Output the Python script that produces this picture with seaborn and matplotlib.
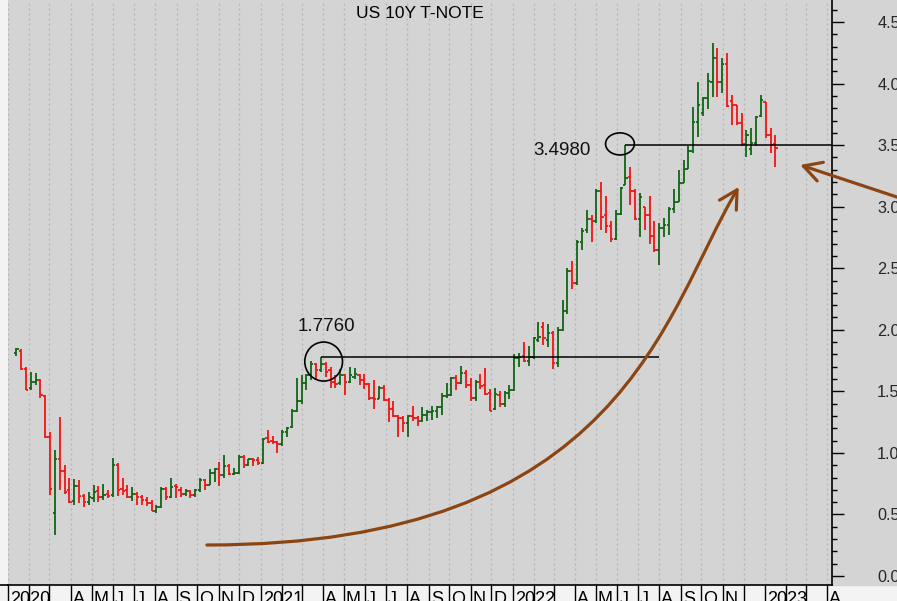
import numpy as np
import pandas as pd
import matplotlib
matplotlib.use('Agg')
import matplotlib.pyplot as plt
import matplotlib.dates as mdates
from matplotlib.patches import Ellipse, FancyArrowPatch, Rectangle, ArrowStyle
from matplotlib.path import Path
from matplotlib.lines import Line2D
import seaborn as sns

# weekly OHLC bars of the US 10Y yield, first bar is the week of 2020-01-13
first_week = '2020-01-13'
opens = [1.81, 1.83, 1.68, 1.53, 1.58, 1.59, 1.46, 1.13, 0.51, 0.95,
         0.85, 0.70, 0.61, 0.73, 0.65, 0.60, 0.63, 0.69, 0.64, 0.67,
         0.66, 0.90, 0.71, 0.70, 0.64, 0.67, 0.64, 0.62, 0.59, 0.53,
         0.56, 0.71, 0.64, 0.73, 0.70, 0.67, 0.69, 0.66, 0.70, 0.78,
         0.74, 0.84, 0.87, 0.82, 0.89, 0.83, 0.84, 0.97, 0.90, 0.95,
         0.94, 0.92, 1.12, 1.10, 1.09, 1.07, 1.17, 1.21, 1.34, 1.42,
         1.57, 1.63, 1.72, 1.67, 1.72, 1.67, 1.58, 1.57, 1.63, 1.58,
         1.62, 1.63, 1.59, 1.56, 1.45, 1.44, 1.53, 1.43, 1.36, 1.30,
         1.28, 1.24, 1.30, 1.28, 1.26, 1.31, 1.33, 1.34, 1.37, 1.46,
         1.47, 1.61, 1.57, 1.65, 1.55, 1.45, 1.58, 1.55, 1.49, 1.36,
         1.47, 1.40, 1.49, 1.51, 1.77, 1.79, 1.75, 1.78, 1.92, 2.02,
         1.92, 1.97, 1.73, 2.00, 2.15, 2.48, 2.38, 2.71, 2.81, 2.90,
         2.88, 3.13, 2.93, 2.84, 2.74, 2.94, 3.18, 3.24, 3.13, 2.90,
         3.00, 2.93, 2.76, 2.65, 2.83, 2.85, 2.98, 3.04, 3.19, 3.31,
         3.45, 3.69, 3.76, 3.88, 4.01, 4.21, 4.01, 4.16, 3.86, 3.83,
         3.68, 3.51, 3.47, 3.52, 3.74, 3.85, 3.58, 3.51]
highs = [1.85, 1.84, 1.70, 1.66, 1.65, 1.60, 1.47, 1.17, 1.02, 1.29,
         0.90, 0.80, 0.79, 0.78, 0.67, 0.68, 0.74, 0.73, 0.75, 0.70,
         0.96, 0.92, 0.80, 0.74, 0.72, 0.68, 0.66, 0.64, 0.62, 0.58,
         0.72, 0.72, 0.80, 0.75, 0.72, 0.71, 0.70, 0.71, 0.80, 0.79,
         0.87, 0.88, 0.93, 0.98, 0.91, 0.88, 0.98, 0.98, 0.95, 0.96,
         0.97, 1.12, 1.19, 1.14, 1.10, 1.19, 1.21, 1.36, 1.61, 1.63,
         1.64, 1.75, 1.73, 1.776, 1.74, 1.70, 1.63, 1.68, 1.64, 1.70,
         1.69, 1.64, 1.64, 1.57, 1.59, 1.54, 1.55, 1.45, 1.42, 1.31,
         1.30, 1.31, 1.38, 1.30, 1.37, 1.35, 1.38, 1.38, 1.49, 1.57,
         1.62, 1.63, 1.71, 1.67, 1.61, 1.59, 1.64, 1.69, 1.52, 1.53,
         1.50, 1.50, 1.55, 1.80, 1.81, 1.90, 1.87, 1.94, 2.06, 2.06,
         2.05, 1.99, 2.02, 2.24, 2.50, 2.56, 2.73, 2.83, 2.97, 2.93,
         3.14, 3.20, 3.09, 2.88, 2.97, 3.16, 3.498, 3.32, 3.14, 3.11,
         3.00, 3.09, 2.88, 2.87, 2.91, 3.00, 3.14, 3.30, 3.38, 3.49,
         3.81, 4.01, 3.89, 4.09, 4.33, 4.29, 4.21, 4.25, 3.91, 3.83,
         3.76, 3.62, 3.64, 3.74, 3.91, 3.85, 3.64, 3.58]
lows = [1.79, 1.67, 1.51, 1.51, 1.55, 1.45, 1.12, 0.66, 0.33, 0.70,
        0.67, 0.59, 0.58, 0.59, 0.56, 0.58, 0.60, 0.60, 0.62, 0.63,
        0.64, 0.65, 0.66, 0.63, 0.61, 0.58, 0.58, 0.57, 0.53, 0.51,
        0.55, 0.62, 0.63, 0.63, 0.64, 0.65, 0.63, 0.64, 0.68, 0.70,
        0.74, 0.76, 0.73, 0.80, 0.82, 0.82, 0.83, 0.88, 0.89, 0.89,
        0.90, 0.91, 1.08, 1.07, 1.00, 1.06, 1.13, 1.20, 1.33, 1.40,
        1.51, 1.59, 1.60, 1.66, 1.62, 1.53, 1.53, 1.55, 1.47, 1.57,
        1.60, 1.55, 1.52, 1.43, 1.36, 1.44, 1.42, 1.25, 1.29, 1.13,
        1.17, 1.13, 1.26, 1.22, 1.25, 1.26, 1.27, 1.28, 1.31, 1.45,
        1.46, 1.51, 1.56, 1.53, 1.42, 1.42, 1.52, 1.47, 1.34, 1.35,
        1.37, 1.37, 1.44, 1.50, 1.70, 1.74, 1.71, 1.76, 1.90, 1.88,
        1.86, 1.68, 1.70, 1.99, 2.13, 2.33, 2.36, 2.65, 2.79, 2.71,
        2.87, 2.81, 2.79, 2.71, 2.73, 2.93, 3.18, 3.01, 2.89, 2.75,
        2.81, 2.70, 2.63, 2.53, 2.75, 2.77, 2.95, 3.04, 3.19, 3.31,
        3.44, 3.57, 3.74, 3.79, 3.89, 3.89, 3.92, 3.81, 3.66, 3.66,
        3.49, 3.40, 3.42, 3.49, 3.73, 3.56, 3.44, 3.32]
closes = [1.84, 1.68, 1.51, 1.58, 1.59, 1.47, 1.13, 0.71, 0.95, 0.85,
          0.68, 0.60, 0.73, 0.65, 0.60, 0.64, 0.68, 0.64, 0.66, 0.65,
          0.90, 0.70, 0.69, 0.64, 0.67, 0.64, 0.62, 0.59, 0.53, 0.56,
          0.71, 0.64, 0.72, 0.72, 0.67, 0.69, 0.66, 0.70, 0.78, 0.74,
          0.84, 0.87, 0.82, 0.89, 0.83, 0.84, 0.97, 0.90, 0.95, 0.94,
          0.92, 1.11, 1.09, 1.09, 1.07, 1.17, 1.20, 1.34, 1.42, 1.57,
          1.63, 1.72, 1.67, 1.72, 1.66, 1.58, 1.56, 1.63, 1.58, 1.63,
          1.64, 1.59, 1.56, 1.45, 1.44, 1.53, 1.43, 1.36, 1.30, 1.28,
          1.24, 1.30, 1.28, 1.26, 1.31, 1.33, 1.34, 1.37, 1.46, 1.47,
          1.61, 1.57, 1.65, 1.55, 1.45, 1.58, 1.54, 1.48, 1.34, 1.48,
          1.40, 1.49, 1.51, 1.77, 1.78, 1.75, 1.78, 1.93, 1.94, 1.93,
          1.97, 1.73, 2.00, 2.15, 2.48, 2.38, 2.71, 2.80, 2.90, 2.88,
          3.13, 2.92, 2.84, 2.74, 2.94, 3.15, 3.23, 3.13, 2.90, 3.08,
          2.93, 2.76, 2.65, 2.83, 2.85, 2.98, 3.04, 3.19, 3.31, 3.45,
          3.69, 3.83, 3.88, 4.02, 4.21, 4.01, 4.16, 3.82, 3.83, 3.68,
          3.51, 3.58, 3.52, 3.73, 3.87, 3.58, 3.50, 3.48]

month_letters = ['J', 'F', 'M', 'A', 'M', 'J', 'J', 'A', 'S', 'O', 'N', 'D']
hidden_labels = ['2020-02', '2020-03', '2021-02', '2021-03', '2022-02', '2022-03',
                 '2022-12', '2023-02', '2023-03']

# marked levels
low_high = 1.776
high_high = 3.498

up_col = '#116515'
dn_col = '#f21414'
brown = '#8b4513'
bg = '#d4d4d4'

sns.set_theme(style='white')
plt.rcParams['font.family'] = ['Liberation Sans', 'DejaVu Sans']

fig = plt.figure(figsize=(8.97, 6.01), dpi=100, facecolor='#f3f3f3')
W, H = 897, 601
ax = fig.add_axes([8 / W, 16 / H, (832 - 8) / W, (601 - 16) / H])
ax.set_facecolor(bg)

# gray strip to the right of the plot, behind the price scale
fig.patches.append(Rectangle((832 / W, 16 / H), 1 - 832 / W, 1 - 16 / H,
                             transform=fig.transFigure, color=bg, zorder=-1))
fig.add_artist(Line2D([0, 8 / W], [16 / H, 16 / H], color='black', lw=1.2))

o = np.array(opens)
h = np.array(highs)
l = np.array(lows)
c = np.array(closes)
dates = pd.date_range(first_week, periods=len(c), freq='7D')
x = mdates.date2num(dates)
cols = np.where(c > o, up_col, dn_col)

tick = 3.3  # days
ax.vlines(x, l, h, colors=cols, lw=1.3, zorder=3)
ax.hlines(o, x - tick, x, colors=cols, lw=1.3, zorder=3)
ax.hlines(c, x, x + tick, colors=cols, lw=1.3, zorder=3)

x_left = mdates.date2num(pd.Timestamp('2020-01-10'))
x_right = mdates.date2num(pd.Timestamp('2023-04-08'))
ax.set_xlim(x_left, x_right)
ax.set_ylim(-0.073, 4.679)

# month grid + separators
months = pd.date_range('2020-01-01', '2023-04-01', freq='MS')
ax.set_xticks(mdates.date2num(months))
ax.set_xticklabels([])
ax.tick_params(axis='x', which='major', direction='out', length=12, width=1,
               color='black', bottom=True)
ax.grid(axis='x', color='#b3b3b3', linestyle=(0, (1.5, 2.5)), lw=0.9)
ax.set_axisbelow(True)
for m in months:
    key = m.strftime('%Y-%m')
    if key in hidden_labels:
        continue
    lab = str(m.year) if m.month == 1 else month_letters[m.month - 1]
    xm = max(mdates.date2num(m) + 3.0, x_left - 12)
    ax.text(xm, -0.011, lab, transform=ax.get_xaxis_transform(),
            ha='left', va='top', fontsize=13, color='black', clip_on=False)

# price scale on the right
ax.yaxis.tick_right()
ax.set_yticks(np.arange(0, 4.51, 0.5))
ax.set_yticks(np.arange(0, 4.61, 0.1), minor=True)
ax.set_yticklabels(['%.2f' % v for v in np.arange(0, 4.51, 0.5)])
ax.tick_params(axis='y', which='major', direction='out', length=8.5, width=1,
               color='black', right=True, left=False, pad=24, labelsize=11.7)
ax.tick_params(axis='y', which='minor', direction='out', length=3.6, width=1,
               color='black', right=True, left=False)

for s in ['top', 'left']:
    ax.spines[s].set_visible(False)
for s in ['right', 'bottom']:
    ax.spines[s].set_visible(True)
    ax.spines[s].set_color('black')
    ax.spines[s].set_linewidth(1.2)

ax.text(0.5, 1 - 14 / 585, 'US 10Y T-NOTE', transform=ax.transAxes,
        ha='center', va='center', fontsize=12.5, color='black')

# 2021 high
ax.hlines(low_high, x[63], mdates.date2num(pd.Timestamp('2022-08-01')),
          colors='black', lw=1.1, zorder=4)
ax.add_patch(Ellipse((mdates.date2num(pd.Timestamp('2021-04-02')), 1.742), 54.6, 0.317,
                     fill=False, edgecolor='black', lw=1.2, zorder=4))
ax.text(mdates.date2num(pd.Timestamp('2021-02-24')), 2.027, '%.4f' % low_high,
        ha='left', va='center', fontsize=13.5, color='#111111')

# 2022 June high
ax.hlines(high_high, x[126], x_right, colors='black', lw=1.1, zorder=4)
ax.add_patch(Ellipse((mdates.date2num(pd.Timestamp('2022-06-05')), 3.51), 41.7, 0.179,
                     fill=False, edgecolor='black', lw=1.2, zorder=4))
ax.text(mdates.date2num(pd.Timestamp('2022-01-31')), 3.46, '%.4f' % high_high,
        ha='left', va='center', fontsize=13.5, color='#111111')

# brown curved arrow
d = lambda s: mdates.date2num(pd.Timestamp(s))
verts = [(d('2020-10-15'), 0.252), (d('2022-06-10'), 0.252),
         (d('2022-08-07'), 2.136), (d('2022-11-24'), 3.16)]
curve = Path(verts, [Path.MOVETO, Path.CURVE4, Path.CURVE4, Path.CURVE4])
head = ArrowStyle('->', head_length=0.4, head_width=0.22)
ax.add_patch(FancyArrowPatch(path=curve, arrowstyle=head, mutation_scale=32,
                             color=brown, lw=2.3, zorder=5, clip_on=False))

# arrow from the right edge
ax.annotate('', xy=(d('2023-02-21'), 3.339), xytext=(d('2023-08-12'), 3.019),
            arrowprops=dict(arrowstyle=head, mutation_scale=32, color=brown, lw=2.3,
                            shrinkA=0, shrinkB=0),
            annotation_clip=False, zorder=5)

fig.savefig('out.png', dpi=100, facecolor=fig.get_facecolor())
